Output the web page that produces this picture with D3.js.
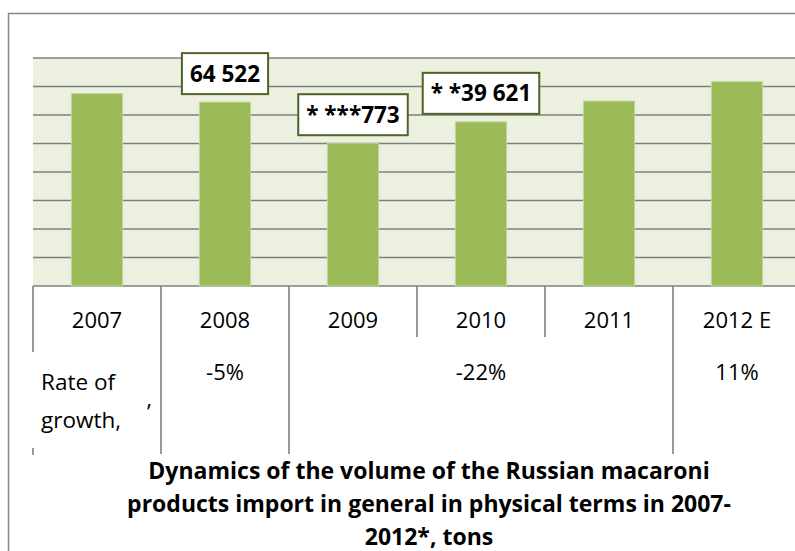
<!DOCTYPE html>
<html><head><meta charset="utf-8">
<script src="https://cdn.jsdelivr.net/npm/d3@7"></script>
<style>body{margin:0;background:#fff;} svg{display:block;}</style>
</head><body>
<svg id="chart" width="795" height="551"></svg>
<script>
const years = ["2007","2008","2009","2010","2011","2012 E"];
const imports = [67500, 64522, 50100, 57600, 64900, 71700];
const dataLabels = [null, "64 522", "* ***773", "* *39 621", null, null];
const growth = [null, "-5%", null, "-22%", null, "11%"];
const yTicks = [0,10000,20000,30000,40000,50000,60000,70000,80000];
const titleLines = ["Dynamics of the volume of the Russian macaroni",
  "products import in general in physical terms in 2007-",
  "2012*, tons"];

(function(){
const svg = d3.select("#chart");
const font = "'Open Sans', Lato, sans-serif";
const pLeft = 33, pTop = 58, pBottom = 286, band = 128;
const x = d3.scaleBand().domain(years).range([pLeft, pLeft + band*years.length]).paddingInner(0).paddingOuter(0);
const y = d3.scaleLinear().domain([0, 80000]).range([pBottom, pTop]);

// outer border
svg.append("path").attr("d","M8.5,551 V13.5 H795").attr("fill","none").attr("stroke","#868686").attr("stroke-width",1.5);

// plot background
svg.append("rect").attr("x",pLeft).attr("y",pTop).attr("width",800-pLeft).attr("height",pBottom-pTop).attr("fill","#ebf1de");

// gridlines
svg.append("g").selectAll("line").data(yTicks).join("line")
  .attr("x1",pLeft).attr("x2",795).attr("y1",d=>y(d)).attr("y2",d=>y(d))
  .attr("stroke","#7f7f7f").attr("stroke-width",1.6);

// bars
const bw = x.bandwidth()*0.4;
svg.append("g").selectAll("rect").data(years).join("rect")
  .attr("x",d=>x(d)+x.bandwidth()/2-bw/2).attr("width",bw)
  .attr("y",(d,i)=>y(imports[i])).attr("height",(d,i)=>y(0)-y(imports[i]))
  .attr("fill","#9bbb59").attr("stroke","#c3d69b").attr("stroke-width",1);

// data labels
const lbl = svg.append("g");
years.forEach((yr,i)=>{
  if(!dataLabels[i]) return;
  const cx = x(yr)+x.bandwidth()/2;
  const t = lbl.append("text").attr("x",cx).attr("text-anchor","middle")
    .attr("font-family",font).attr("font-weight","bold").attr("font-size",22.5).attr("fill","#000")
    .text(dataLabels[i]);
  const w = t.node().getComputedTextLength() + 16;
  const b = y(imports[i]) - 8, h = 41;
  lbl.insert("rect","text").attr("x",cx-w/2).attr("y",b-h).attr("width",w).attr("height",h)
    .attr("fill","#fff").attr("stroke","#4f6228").attr("stroke-width",2);
  t.attr("y", b-h/2+8);
});
lbl.selectAll("text").raise();

// table lines
const tick = svg.append("g").attr("stroke","#7f7f7f").attr("stroke-width",1.6);
const tickEnds = [337,454,454,337,337,454];
years.forEach((yr,i)=>{
  const xx = x(yr);
  if(i===0){
    tick.append("line").attr("x1",xx).attr("x2",xx).attr("y1",pBottom).attr("y2",352);
    tick.append("line").attr("x1",xx).attr("x2",xx).attr("y1",448).attr("y2",455);
  } else {
    tick.append("line").attr("x1",xx).attr("x2",xx).attr("y1",pBottom).attr("y2",tickEnds[i]);
  }
});

// year labels
svg.append("g").selectAll("text").data(years).join("text")
  .attr("x",d=>x(d)+x.bandwidth()/2).attr("y",328).attr("text-anchor","middle")
  .attr("font-family",font).attr("font-size",22).attr("fill","#000").text(d=>d);

// growth row
svg.append("g").selectAll("text").data(years.filter((d,i)=>growth[i])).join("text")
  .attr("x",d=>x(d)+x.bandwidth()/2).attr("y",380).attr("text-anchor","middle")
  .attr("font-family",font).attr("font-size",22).attr("fill","#000").text(d=>growth[years.indexOf(d)]);

svg.append("text").attr("x",41).attr("y",390).attr("font-family",font).attr("font-size",22.5).text("Rate of");
svg.append("text").attr("x",41).attr("y",428).attr("font-family",font).attr("font-size",22.5).text("growth,");
svg.append("text").attr("x",147).attr("y",420).attr("font-family",font).attr("font-size",22).text("’");

// title
svg.append("g").selectAll("text").data(titleLines).join("text")
  .attr("x",429).attr("y",(d,i)=>479+i*33).attr("text-anchor","middle")
  .attr("font-family",font).attr("font-weight","bold").attr("font-size",23).attr("fill","#000").text(d=>d);
})();
</script>
</body></html>
